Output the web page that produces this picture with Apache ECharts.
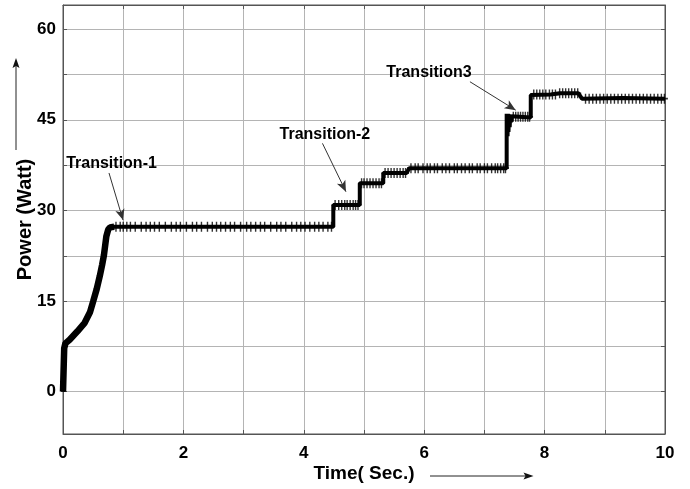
<!DOCTYPE html>
<html>
<head>
<meta charset="utf-8">
<script src="https://cdn.jsdelivr.net/npm/echarts@6/dist/echarts.min.js"></script>
<style>
  html, body { margin: 0; padding: 0; background: #fff; }
  #chart { width: 690px; height: 489px; }
</style>
</head>
<body>
<div id="chart"></div>
<script>
// Power trace breakpoints (time in seconds, power in watts)
const timeSec = [0, 0.015, 0.02, 0.04, 0.07, 0.11, 0.24, 0.36, 0.45, 0.50, 0.56, 0.61, 0.65, 0.68, 0.72, 0.75, 0.78,
  0.85, 4.49, 4.49, 4.93, 4.93, 5.32, 5.32, 5.71, 5.75, 7.37, 7.37, 7.385, 7.39, 7.40, 7.41, 7.42, 7.43, 7.44, 7.45, 7.47,
  7.77, 7.77, 8.10, 8.25, 8.56, 8.62, 9.3, 10];
const powerWatt = [0, 0, 7.2, 8.0, 8.3, 8.6, 10.0, 11.4, 13.2, 14.9, 17.0, 19.1, 21.0, 22.6, 25.7, 26.8, 27.2,
  27.3, 27.3, 30.9, 30.9, 34.5, 34.5, 36.2, 36.2, 37.0, 37.0, 46.0, 42.3, 46.0, 43.0, 45.9, 43.8, 45.8, 44.6, 45.6, 45.4,
  45.4, 49.1, 49.2, 49.4, 49.4, 48.5, 48.6, 48.5];
// index where the start-up ramp ends
const rampEnd = 17;

// '+' marker positions along each plateau
const markerLevels = [27.3, 30.9, 34.5, 36.2, 37.0, 45.5, 49.2, 49.4, 48.5];
const markerTimes = [
  [0.88, 0.95, 1.0, 1.06, 1.12, 1.2, 1.3, 1.38, 1.45, 1.52, 1.6, 1.7, 1.8, 1.88, 1.95, 2.05, 2.15, 2.22, 2.3, 2.4,
   2.48, 2.55, 2.62, 2.7, 2.78, 2.85, 2.95, 3.05, 3.12, 3.2, 3.28, 3.35, 3.45, 3.55, 3.62, 3.7, 3.8, 3.88, 3.95,
   4.02, 4.1, 4.18, 4.25, 4.32, 4.4, 4.46],
  [4.52, 4.58, 4.63, 4.68, 4.72, 4.77, 4.82, 4.86, 4.9],
  [4.96, 5.0, 5.05, 5.1, 5.15, 5.2, 5.25, 5.29],
  [5.35, 5.4, 5.45, 5.5, 5.55, 5.6, 5.65, 5.69],
  [5.78, 5.85, 5.9, 5.98, 6.05, 6.1, 6.17, 6.22, 6.3, 6.36, 6.42, 6.5, 6.55, 6.62, 6.68, 6.75, 6.8, 6.88, 6.93,
   7.0, 7.05, 7.12, 7.18, 7.22, 7.27, 7.32, 7.35],
  [7.48, 7.52, 7.56, 7.6, 7.64, 7.68, 7.72, 7.75],
  [7.82, 7.87, 7.92, 7.97, 8.02, 8.08, 8.13, 8.18],
  [8.25, 8.3, 8.35, 8.4, 8.45, 8.5, 8.55],
  [8.68, 8.74, 8.8, 8.86, 8.92, 8.98, 9.04, 9.1, 9.16, 9.22, 9.28, 9.34, 9.4, 9.46, 9.52, 9.58, 9.64, 9.7, 9.76,
   9.82, 9.88, 9.94, 9.99]
];

// axis ticks
const xLabelStep = 2;
const yTickValues = [0, 7.5, 15, 22.5, 30, 37.5, 45, 52.5, 60];
const yLabelValues = [0, 15, 30, 45, 60];

// annotations: text, text anchor, arrow start, arrow end
const noteTexts = ['Transition-1', 'Transition-2', 'Transition3'];
const noteAnchors = [[0.806, 37.7], [4.35, 42.5], [6.08, 52.8]];
const arrowStarts = [[0.764, 36.2], [4.31, 41.1], [6.76, 51.3]];
const arrowEnds = [[0.997, 28.4], [4.70, 33.1], [7.52, 46.6]];

const FONT = '"Liberation Sans", Arial, Helvetica, sans-serif';
const trace = timeSec.map((t, i) => [t, powerWatt[i]]);
const markers = [];
markerTimes.forEach((list, k) => list.forEach(t => markers.push([t, markerLevels[k]])));

const plusPath = 'path://M-1,-0.16H1V0.16H-1Z M-0.2,-1H0.2V1H-0.2Z';

const frameColor = '#555';
const gridColor = '#b4b4b4';

const chart = echarts.init(document.getElementById('chart'), null, { renderer: 'canvas' });
chart.setOption({
  animation: false,
  backgroundColor: '#fff',
  textStyle: { fontFamily: FONT },
  grid: { left: 63, top: 5, right: 25, bottom: 55, show: true, borderColor: frameColor, borderWidth: 1, backgroundColor: '#fff' },
  xAxis: [{
    type: 'value', min: 0, max: 10, interval: 1, position: 'bottom',
    axisLine: { show: true, onZero: false, lineStyle: { color: frameColor } },
    axisTick: { show: true, inside: true, length: 4, lineStyle: { color: frameColor } },
    axisLabel: {
      color: '#000', fontSize: 17, fontWeight: 'bold', fontFamily: FONT, margin: 11,
      formatter: v => (v % xLabelStep === 0 ? String(v) : '')
    },
    splitLine: { show: true, lineStyle: { color: gridColor, width: 1 } },
    name: 'Time( Sec.)', nameLocation: 'middle', nameGap: 30, nameMoveOverlap: false,
    nameTextStyle: { color: '#000', fontSize: 19, fontWeight: 'bold', fontFamily: FONT }
  }, {
    type: 'value', min: 0, max: 10, interval: 1, position: 'top',
    axisLine: { show: true, onZero: false, lineStyle: { color: frameColor } },
    axisTick: { show: true, inside: true, length: 4, lineStyle: { color: frameColor } },
    axisLabel: { show: false },
    splitLine: { show: false }
  }],
  yAxis: [{
    type: 'value', min: -7, max: 64, position: 'left',
    axisLine: { show: true, onZero: false, lineStyle: { color: frameColor } },
    axisTick: { show: true, inside: true, length: 4, customValues: yTickValues, lineStyle: { color: frameColor } },
    axisLabel: { customValues: yLabelValues, color: '#000', fontSize: 17, fontWeight: 'bold', fontFamily: FONT, margin: 7 },
    splitLine: { show: true, lineStyle: { color: gridColor, width: 1 } },
    name: 'Power (Watt)', nameLocation: 'middle', nameGap: 28, nameMoveOverlap: false,
    nameTextStyle: { color: '#000', fontSize: 20, fontWeight: 'bold', fontFamily: FONT }
  }, {
    type: 'value', min: -7, max: 64, position: 'right',
    axisLine: { show: true, onZero: false, lineStyle: { color: frameColor } },
    axisTick: { show: true, inside: true, length: 4, customValues: yTickValues, lineStyle: { color: frameColor } },
    axisLabel: { show: false },
    splitLine: { show: false }
  }],
  series: [{
    name: 'power', type: 'line', data: trace, showSymbol: false, symbol: 'none',
    lineStyle: { color: '#000', width: 4 }, z: 3,
    markLine: {
      silent: true, animation: false,
      symbol: ['none', 'arrow'], symbolSize: [7, 11],
      lineStyle: { color: '#333', width: 1, type: 'solid' },
      label: { show: false },
      data: arrowStarts.map((s, i) => [{ coord: s }, { coord: arrowEnds[i] }])
    },
    markPoint: {
      silent: true, animation: false,
      symbol: 'circle', symbolSize: 1,
      itemStyle: { color: 'rgba(0,0,0,0)' },
      label: { show: true, position: 'inside', color: '#000', fontSize: 16, fontWeight: 'bold', fontFamily: FONT },
      data: noteTexts.map((txt, i) => ({ coord: noteAnchors[i], value: txt, label: { formatter: txt } }))
    }
  }, {
    name: 'ramp', type: 'line', data: trace.slice(0, rampEnd + 1), showSymbol: false, symbol: 'none',
    lineStyle: { color: '#000', width: 6.5 }, z: 3
  }, {
    name: 'samples', type: 'scatter', data: markers, symbol: plusPath, symbolSize: [7, 10],
    itemStyle: { color: '#000' }, z: 4
  }],
  graphic: [
    { type: 'line', shape: { x1: 16, y1: 150, x2: 16, y2: 64 }, style: { stroke: '#222', lineWidth: 1 } },
    { type: 'polygon', shape: { points: [[16, 58], [19.5, 68], [16, 66], [12.5, 68]] }, style: { fill: '#111' } },
    { type: 'line', shape: { x1: 430, y1: 476, x2: 527, y2: 476 }, style: { stroke: '#222', lineWidth: 1 } },
    { type: 'polygon', shape: { points: [[533.5, 476], [523.5, 472.5], [525.5, 476], [523.5, 479.5]] }, style: { fill: '#111' } }
  ]
});
</script>
</body>
</html>
